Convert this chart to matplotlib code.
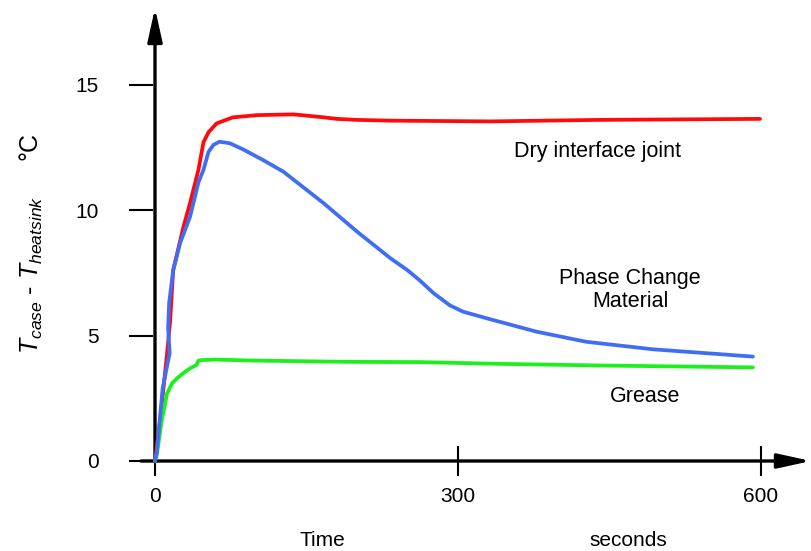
import matplotlib
matplotlib.use("Agg")
import matplotlib.pyplot as plt

plt.rcParams['font.family'] = ['Liberation Sans', 'DejaVu Sans']
plt.rcParams['mathtext.fontset'] = 'custom'
plt.rcParams['mathtext.rm'] = 'Liberation Sans'
plt.rcParams['mathtext.it'] = 'Liberation Sans:italic'

# Data (seconds, degC)
dry_t = [0, 5, 12, 15, 18, 28, 34.7, 43, 48, 53, 61, 77, 101, 137, 150, 165, 180, 200, 233, 332, 440, 520, 599]
dry_T = [0, 1.6, 4.3, 5.6, 7.6, 9.3, 10.28, 11.6, 12.7, 13.1, 13.45, 13.69, 13.78, 13.81, 13.76, 13.7, 13.63, 13.59, 13.56, 13.53, 13.59, 13.61, 13.63]

pcm_t = [0, 1.7, 7.6, 14.5, 13, 14, 18, 25, 34.7, 43, 48, 53, 58, 64, 74, 87, 107, 127, 147, 167, 200, 233, 250, 262, 276, 292, 305, 328, 378, 427, 493, 592]
pcm_T = [0, 0.3, 2.9, 4.3, 5.3, 6.3, 7.6, 8.7, 9.73, 11.1, 11.6, 12.32, 12.6, 12.72, 12.66, 12.42, 11.99, 11.53, 10.9, 10.27, 9.14, 8.08, 7.6, 7.2, 6.68, 6.2, 5.95, 5.69, 5.15, 4.75, 4.45, 4.16]

grease_t = [0, 2, 6.6, 12, 17, 22, 28, 35, 41, 43, 46, 59, 100, 193, 262, 341, 450, 592]
grease_T = [0, 0.3, 1.6, 2.7, 3.1, 3.3, 3.5, 3.7, 3.82, 4.0, 4.02, 4.04, 4.0, 3.95, 3.94, 3.87, 3.8, 3.73]

xticks = [0, 300, 600]
yticks = [0, 5, 10, 15]

fig = plt.figure(figsize=(8.11, 5.51), dpi=100)
px_x = 1.01
px_y = 25.1
left_px, right_px = 141, 811
top_px, bot_px = 8, 461
ax = fig.add_axes([left_px / 811, (551 - bot_px) / 551, (right_px - left_px) / 811, (bot_px - top_px) / 551])
ax.set_xlim((left_px - 155) / px_x, (right_px - 155) / px_x)
ax.set_ylim(0, (bot_px - top_px) / px_y)
for s in ax.spines.values():
    s.set_visible(False)

lw = 2.7
kw = dict(lw=lw, solid_joinstyle='round', solid_capstyle='round', clip_on=False)
ax.plot(dry_t, dry_T, color='#ff0a0a', zorder=3, **kw)
ax.plot(grease_t, grease_T, color='#1cf01c', zorder=3, **kw)
ax.plot(pcm_t, pcm_T, color='#3f6ef5', zorder=4, **kw)

xmin, xmax = ax.get_xlim()
ymin, ymax = ax.get_ylim()
arrow = dict(arrowstyle='-|>,head_length=1.0,head_width=0.22', lw=2.4, color='k', mutation_scale=20, shrinkA=0, shrinkB=0)
ax.annotate('', xy=(xmax, 0), xytext=(xmin, 0), arrowprops=arrow, annotation_clip=False, zorder=2)
ax.annotate('', xy=(0, ymax), xytext=(0, 0), arrowprops=arrow, annotation_clip=False, zorder=2)

ax.set_xticks(xticks)
ax.set_yticks(yticks)
ax.set_xticklabels([str(v) for v in xticks])
ax.set_yticklabels([str(v) for v in yticks])
ax.tick_params(axis='y', direction='inout', length=17, width=1.5, pad=22, labelsize=15)
ax.tick_params(axis='x', direction='inout', length=21, width=1.5, pad=8, labelsize=15)

def dx(px): return (px - 155) / px_x
def dy(py): return (bot_px - py) / px_y
ax.text(dx(598), dy(152), 'Dry interface joint', ha='center', va='center', fontsize=15.5)
ax.text(dx(630), dy(290), 'Phase Change\nMaterial', ha='center', va='center', fontsize=15.5, linespacing=1.1)
ax.text(dx(645), dy(397), 'Grease', ha='center', va='center', fontsize=15.5)

fig.text(322 / 811, 1 - 540 / 551, 'Time', ha='center', va='center', fontsize=15)
fig.text(628 / 811, 1 - 540 / 551, 'seconds', ha='center', va='center', fontsize=15)
fig.text(32 / 811, 1 - 275 / 551, r'$T_{case}$ - $T_{heatsink}$', rotation=90, ha='center', va='center', fontsize=18)
fig.text(30 / 811, 1 - 146 / 551, '°C', rotation=90, ha='center', va='center', fontsize=18)

fig.savefig('out.png', dpi=100)
